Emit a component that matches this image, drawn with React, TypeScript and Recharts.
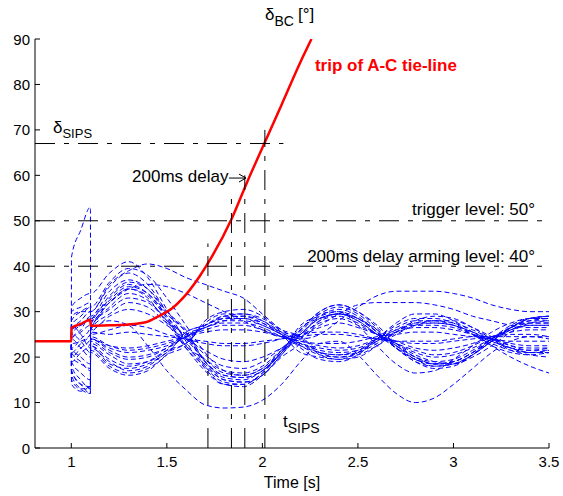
import React from 'react';
import { LineChart, Line, XAxis, YAxis, ReferenceLine, ReferenceDot } from 'recharts';

// sample times shared by all rotor-angle swings (jumps at fault on/off)
const TIME = [0.81, 1.0, 1.001, 1.05, 1.1, 1.101, 1.2, 1.3, 1.4, 1.5, 1.6, 1.7, 1.8, 1.9, 2.0, 2.1, 2.2, 2.3, 2.4, 2.5, 2.6, 2.7, 2.8, 2.9, 3.0, 3.1, 3.2, 3.3, 3.4, 3.5];

// swings that go up first
const SWING_A1 = [23.5, 23.5, 42, 48, 53, 34, 38.5, 41, 37.5, 30.5, 23.5, 17.5, 14, 13.5, 16, 20.5, 25.5, 29.5, 31, 29.5, 26, 22, 19, 17.5, 18, 20.5, 24, 27, 28.5, 28.5];
const SWING_A2 = [23.5, 23.5, 28, 30, 31, 29, 34.5, 37, 35, 29.5, 25.5, 19, 15.5, 15, 17, 21, 27, 29, 30, 28.5, 25.5, 22, 19.5, 18.5, 19, 21, 24, 26.5, 28, 28];
const SWING_A3 = [23.5, 23.5, 25, 27, 28, 27, 33, 36, 34, 29, 24, 19.5, 16.5, 16, 17.5, 21, 25, 28.5, 29.5, 28, 25, 22.5, 20, 19, 19.5, 21.5, 24, 26.5, 27.5, 27.5];
const SWING_A4 = [23.5, 23.5, 21, 23, 25, 26, 31, 34, 32.5, 28, 22.5, 19.5, 17, 16.5, 18, 21.5, 24, 28, 29, 27.5, 25, 23, 21, 20, 20.5, 22, 24, 26, 27, 27];
const SWING_A5 = [23.5, 23.5, 19, 21, 23, 26, 29.5, 32, 31, 27.5, 25, 20.5, 18, 17.5, 19, 22, 25, 27.5, 28.5, 27, 25, 23, 21.5, 20.5, 21, 22.5, 24.5, 26, 27, 27];
const SWING_A6 = [23.5, 23.5, 17, 14, 12, 25, 28, 27, 22.5, 17, 12.8, 9.5, 8.8, 9, 10.5, 14, 19, 23, 23.5, 20.5, 16, 12, 10, 11, 14, 17.5, 21, 23.5, 24.5, 24.5];
const SWING_A7 = [23.5, 23.5, 15, 13, 13.5, 27, 32, 35, 33, 27.5, 22, 17, 14, 14, 16.5, 21.5, 26, 29.5, 30, 27, 22.5, 18.5, 16.5, 17, 19.5, 22.5, 25.5, 27.5, 28.5, 28.5];
const SWING_A8 = [23.5, 23.5, 24, 26, 29, 28, 32, 35, 33.5, 28.5, 22, 18, 15, 14.5, 16, 20, 23, 28, 29.5, 28.5, 26, 23, 20.5, 19, 18.5, 20, 22.5, 25.5, 27.5, 28];
const SWING_A9 = [23.5, 23.5, 27, 29, 31, 30, 35.5, 38.5, 36, 30, 25.5, 18, 14.5, 14, 16.5, 21, 26, 30, 31.5, 30, 26.5, 22.5, 19.5, 18, 18.5, 20.5, 23.5, 26.5, 28.5, 29];
const SWING_A10 = [23.5, 23.5, 26, 28, 30, 28.5, 33.5, 36.5, 35, 30, 26, 19, 16, 15.5, 17, 21, 26.5, 28.5, 29.5, 28.5, 25.5, 22.5, 20, 18.5, 19, 21, 24, 26.5, 28, 28.5];
const SWING_A11 = [23.5, 23.5, 22, 24, 26.5, 27.5, 32.5, 35.5, 34, 29, 22.5, 18.5, 15, 14.5, 16, 20.5, 25, 29, 30.5, 29, 25.5, 22, 19, 18, 18.5, 20.5, 23.5, 26.5, 28.5, 29];
const SWING_A12 = [23.5, 23.5, 20, 22, 24, 26.5, 30.5, 33, 32, 28, 24.5, 19, 16, 15.5, 17, 21, 25, 28.5, 29.5, 28, 25, 22, 19.5, 18.5, 19, 21, 23.5, 26, 27.5, 27.5];
const SWING_A13 = [23.5, 23.5, 31, 33, 34, 31, 36.5, 39.5, 38, 33, 27, 21, 17, 16, 17.5, 21.5, 26, 30, 31.5, 30, 27, 23, 20, 18.5, 18.5, 20.5, 23.5, 26.5, 28.5, 29];
const SWING_A14 = [23.5, 23.5, 24, 25.5, 27, 26, 29, 30.5, 29.5, 27, 24, 21.5, 19.5, 19, 20, 22, 24.5, 26.5, 27.5, 26.5, 25, 23.5, 22, 21.5, 22, 23, 24.5, 25.5, 26, 26];

// swings that go down first
const SWING_B1 = [23.5, 23.5, 18, 15, 13, 22, 19, 17, 18, 21, 23, 27.5, 29.5, 29.5, 28, 25, 21, 20, 19.5, 21, 24, 27, 28.5, 28.5, 27.5, 25, 22.5, 21, 20.5, 21];
const SWING_B2 = [23.5, 23.5, 21, 19, 17, 23, 20.5, 18.5, 19, 21.5, 25.5, 27, 28.5, 28.5, 27, 25, 22.5, 21, 20.5, 21.5, 24, 26.5, 28, 28, 27, 25, 23, 21.5, 21, 21.5];
const SWING_B3 = [23.5, 23.5, 24, 22, 20, 24, 21.5, 20, 20.5, 22, 24.5, 26.5, 27.5, 27.5, 26.5, 24.5, 23, 22, 21.5, 22, 24, 26, 27, 27, 26.5, 25, 23.5, 22, 21.5, 22];
const SWING_B4 = [23.5, 23.5, 27, 25, 22, 24.5, 22.5, 21.5, 22, 23, 24.5, 26, 27, 27, 26, 24.5, 23.5, 22.5, 22, 22.5, 24, 25.5, 26.5, 26.5, 26, 25, 24, 23, 22.5, 22.5];
const SWING_B5 = [23.5, 23.5, 16, 13, 12, 21, 17.5, 16, 17, 20.5, 22.5, 28, 30, 30.5, 29, 25.5, 22, 19.5, 19, 20.5, 24, 27.5, 29.5, 29.5, 28, 25.5, 22.5, 20, 18, 16.5];
const SWING_B6 = [23.5, 23.5, 14, 12.5, 14, 22.5, 18.5, 17.5, 18.5, 21, 25, 26.5, 28, 28.5, 27.5, 25.5, 24.5, 21, 20, 20.5, 22.5, 25, 27, 28, 28, 26.5, 24.5, 22.5, 21.5, 21.5];
const SWING_B7 = [23.5, 23.5, 22, 20, 18.5, 23.5, 21, 19.5, 20, 22, 24.5, 27, 29, 29, 27.5, 25, 22.5, 20.5, 20, 21, 23.5, 26, 27.5, 27.5, 27, 25.5, 23.5, 22, 21, 21];
const SWING_B8 = [23.5, 23.5, 19, 16.5, 15, 22.5, 19.5, 18, 19, 21.5, 23, 27, 28.5, 29, 28, 25.5, 23, 21, 20.5, 21, 23, 25.5, 27.5, 28, 27.5, 26, 24, 22, 21, 21];
const SWING_B9 = [23.5, 23.5, 25, 23.5, 21, 24, 22, 21, 21.5, 22.5, 24.5, 26.5, 28, 28, 27, 25, 23, 21.5, 21, 21.5, 23.5, 25.5, 27, 27.5, 27, 25.5, 24, 22.5, 22, 22];
const SWING_B10 = [23.5, 23.5, 17, 14, 13.5, 21.5, 18, 16.5, 17.5, 20.5, 25.5, 27, 29, 29.5, 28.5, 26, 24.5, 20.5, 19.5, 20, 22.5, 25.5, 28, 29, 28.5, 26.5, 24, 21.5, 20.5, 20];

// small swings near the operating point
const SWING_C1 = [23.5, 23.5, 26, 27, 28.5, 25, 26, 27, 26.5, 25, 24, 23, 22.5, 22.5, 23, 24, 25, 25.5, 25.5, 25, 24, 23.5, 23, 23, 23.5, 24, 24.5, 25, 25, 24.5];
const SWING_C2 = [23.5, 23.5, 20, 18.5, 17.5, 24, 22.5, 22, 22.5, 23.5, 24.5, 25.5, 26, 26, 25.5, 24.5, 23.5, 23, 23, 23.5, 24.5, 25, 25.5, 25.5, 25, 24.5, 24, 23.5, 23.5, 23.5];
const SWING_C3 = [23.5, 23.5, 23, 23.5, 25, 25.5, 25, 25.5, 25, 24.5, 24, 23.5, 23, 23, 23.5, 24, 24.5, 25, 25, 24.5, 24, 23.5, 23.5, 23.5, 24, 24.5, 24.5, 24.5, 24.5, 24];

// slow, high swings
const SWING_H1 = [23.5, 23.5, 30, 31, 32, 30, 36, 39, 40.5, 39.5, 37.5, 36, 34.5, 33, 29.5, 26, 24, 25, 28, 31, 33.5, 34.5, 34.5, 34.5, 34, 33, 31.5, 30.5, 30, 30];
const SWING_H2 = [23.5, 23.5, 29, 30, 30, 28, 32, 35, 36, 35.5, 34, 32, 30, 28, 26, 24.5, 25, 27, 29.5, 31.5, 32, 32, 32, 31.5, 30.5, 29, 28, 27, 26.5, 26.5];

const SWINGS = [
  SWING_A1, SWING_A2, SWING_A3, SWING_A4, SWING_A5, SWING_A6, SWING_A7, SWING_A8, SWING_A9,
  SWING_A10, SWING_A11, SWING_A12, SWING_A13, SWING_A14,
  SWING_B1, SWING_B2, SWING_B3, SWING_B4, SWING_B5, SWING_B6, SWING_B7, SWING_B8, SWING_B9, SWING_B10,
  SWING_C1, SWING_C2, SWING_C3, SWING_H1, SWING_H2,
];

// delta_BC, the tripping case
const RED_TIME = [0.81, 1.0, 1.001, 1.05, 1.1, 1.101, 1.2, 1.33, 1.4, 1.47, 1.53, 1.58, 1.67, 1.72, 1.84, 1.92, 2.01, 2.1, 2.2, 2.257];
const RED_DELTA = [23.5, 23.5, 26.4, 27.3, 28.2, 26.9, 27.0, 27.3, 27.8, 29.3, 30.8, 32.8, 37.7, 41, 50.5, 58.5, 67, 75.5, 85, 90];

const X_TICKS = [1, 1.5, 2, 2.5, 3, 3.5];
const Y_TICKS = [0, 10, 20, 30, 40, 50, 60, 70, 80, 90];

const SIPS_LEVEL = 67;
const TRIGGER_LEVEL = 50;
const ARMING_LEVEL = 40;
const CUT_TIMES = [1.715, 1.838, 1.908, 2.013];
const CUT_TOPS = [45, 55, 60, 70];

const FONT = '"Liberation Sans", Arial, Helvetica, sans-serif';
const DASHDOT = '20 9 5 9';

const swingData = TIME.map((t, i) => {
  const row: Record<string, number> = { t };
  SWINGS.forEach((s, k) => { row[`s${k}`] = s[i]; });
  return row;
});
const redData = RED_TIME.map((t, i) => ({ t, v: RED_DELTA[i] }));

const XTick = ({ x, y, payload }: any) => (
  <g>
    <line x1={x} x2={x} y1={y} y2={y - 5} stroke="#000" />
    <text x={x} y={y + 19} textAnchor="middle" fontSize={15} fontFamily={FONT} fill="#000">{payload.value}</text>
  </g>
);

const YTick = ({ x, y, payload }: any) => (
  <g>
    <line x1={x} x2={x + 5} y1={y} y2={y} stroke="#000" />
    <text x={x - 5} y={y + 5.5} textAnchor="end" fontSize={15} fontFamily={FONT} fill="#000">{payload.value}</text>
  </g>
);

const note = (content: React.ReactNode, anchor: string = 'start', color = '#000', bold = false) => (p: any) => (
  <text x={p.cx} y={p.cy} textAnchor={anchor as any} fontSize={17} fontFamily={FONT} fill={color} fontWeight={bold ? 'bold' : 'normal'}>
    {content}
  </text>
);

const arrowHead = (p: any) => (
  <path d={`M${p.cx - 7},${p.cy - 4} L${p.cx},${p.cy} L${p.cx - 7},${p.cy + 4}`} fill="none" stroke="#000" />
);

export default function App() {
  return (
    <div style={{ position: 'absolute', left: 0, top: 0, background: '#fff' }}>
      <LineChart width={563} height={496} data={swingData} margin={{ top: 39, right: 14, bottom: 0, left: 0 }}>
        <XAxis
          dataKey="t" type="number" domain={[0.81, 3.5]} ticks={X_TICKS} allowDataOverflow
          height={48} tickSize={0} tickMargin={0} tick={<XTick />} tickLine={false}
          axisLine={{ stroke: '#000' }}
          label={{ value: 'Time [s]', position: 'insideBottom', offset: 8, fill: '#000', fontSize: 16, fontFamily: FONT }}
        />
        <YAxis
          type="number" domain={[0, 90]} ticks={Y_TICKS} allowDataOverflow
          width={35} tickSize={0} tickMargin={0} tick={<YTick />} tickLine={false}
          axisLine={{ stroke: '#000' }}
        />
        {SWINGS.map((_, k) => (
          <Line key={k} dataKey={`s${k}`} type="monotone" stroke="#0000ff" strokeWidth={1}
            strokeDasharray="5 3" dot={false} isAnimationActive={false} />
        ))}
        <Line data={redData} dataKey="v" type="monotone" stroke="#ff0000" strokeWidth={2.5}
          dot={false} isAnimationActive={false} />

        <ReferenceLine segment={[{ x: 0.81, y: SIPS_LEVEL }, { x: 2.11, y: SIPS_LEVEL }]} stroke="#000" strokeDasharray={DASHDOT} />
        <ReferenceLine segment={[{ x: 0.81, y: TRIGGER_LEVEL }, { x: 3.5, y: TRIGGER_LEVEL }]} stroke="#000" strokeDasharray={DASHDOT} />
        <ReferenceLine segment={[{ x: 0.81, y: ARMING_LEVEL }, { x: 3.5, y: ARMING_LEVEL }]} stroke="#000" strokeDasharray={DASHDOT} />
        {CUT_TIMES.map((c, i) => (
          <ReferenceLine key={c} segment={[{ x: c, y: 0 }, { x: c, y: CUT_TOPS[i] }]} stroke="#000" strokeDasharray={DASHDOT} />
        ))}
        <ReferenceLine segment={[{ x: 1.825, y: 59.4 }, { x: 1.914, y: 59.4 }]} stroke="#000" />
        <ReferenceDot x={1.914} y={59.4} r={0} ifOverflow="visible" shape={arrowHead} />

        <ReferenceDot x={2.014} y={94.2} r={0} ifOverflow="visible" shape={note(
          <>
            <tspan fontSize={17}>δ</tspan>
            <tspan fontSize={14} dy={6}>BC</tspan>
            <tspan dy={-6} dx={4}>[°]</tspan>
          </>
        )} />
        <ReferenceDot x={2.275} y={83} r={0} ifOverflow="visible" shape={note('trip of A-C tie-line', 'start', '#ff0000', true)} />
        <ReferenceDot x={0.904} y={69.3} r={0} ifOverflow="visible" shape={note(
          <>
            <tspan fontSize={17}>δ</tspan>
            <tspan fontSize={13} dy={5}>SIPS</tspan>
          </>
        )} />
        <ReferenceDot x={1.318} y={58.5} r={0} ifOverflow="visible" shape={note('200ms delay')} />
        <ReferenceDot x={3.427} y={51.3} r={0} ifOverflow="visible" shape={note('trigger level: 50°', 'end')} />
        <ReferenceDot x={3.427} y={41.0} r={0} ifOverflow="visible" shape={note('200ms delay arming level: 40°', 'end')} />
        <ReferenceDot x={2.108} y={4.6} r={0} ifOverflow="visible" shape={note(
          <>
            <tspan>t</tspan>
            <tspan fontSize={14} dy={6}>SIPS</tspan>
          </>
        )} />
      </LineChart>
    </div>
  );
}
